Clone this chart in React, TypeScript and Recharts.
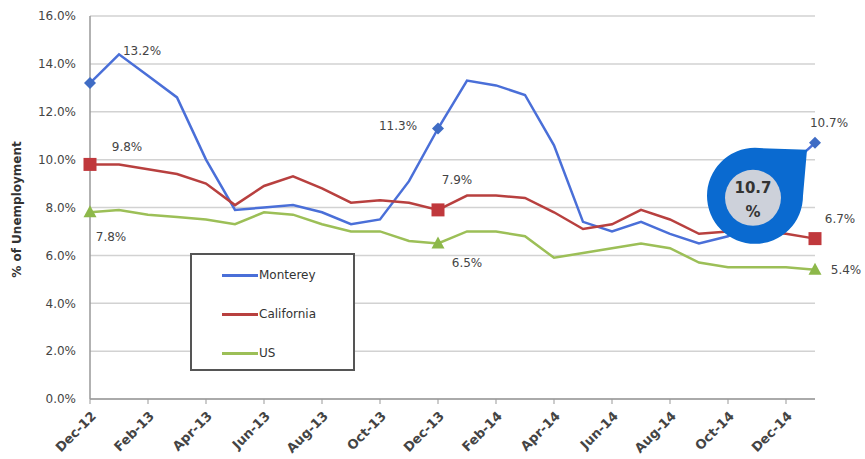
import React from 'react';
import { LineChart, Line, XAxis, YAxis, CartesianGrid, Legend, LabelList } from 'recharts';

const months = [
  'Dec-12', 'Jan-13', 'Feb-13', 'Mar-13', 'Apr-13', 'May-13', 'Jun-13', 'Jul-13', 'Aug-13',
  'Sep-13', 'Oct-13', 'Nov-13', 'Dec-13', 'Jan-14', 'Feb-14', 'Mar-14', 'Apr-14', 'May-14',
  'Jun-14', 'Jul-14', 'Aug-14', 'Sep-14', 'Oct-14', 'Nov-14', 'Dec-14', 'Jan-15',
];
const monterey = [13.2, 14.4, 13.5, 12.6, 10.0, 7.9, 8.0, 8.1, 7.8, 7.3, 7.5, 9.1, 11.3, 13.3, 13.1, 12.7, 10.6, 7.4, 7.0, 7.4, 6.9, 6.5, 6.8, 7.5, 9.6, 10.7];
const california = [9.8, 9.8, 9.6, 9.4, 9.0, 8.1, 8.9, 9.3, 8.8, 8.2, 8.3, 8.2, 7.9, 8.5, 8.5, 8.4, 7.8, 7.1, 7.3, 7.9, 7.5, 6.9, 7.0, 7.0, 6.9, 6.7];
const us = [7.8, 7.9, 7.7, 7.6, 7.5, 7.3, 7.8, 7.7, 7.3, 7.0, 7.0, 6.6, 6.5, 7.0, 7.0, 6.8, 5.9, 6.1, 6.3, 6.5, 6.3, 5.7, 5.5, 5.5, 5.5, 5.4];
const yTicks = [0, 2, 4, 6, 8, 10, 12, 14, 16];
const markerIdx = [0, 12, 25];
const calloutValue = '10.7';

const data = months.map((m, i) => ({ month: m, monterey: monterey[i], california: california[i], us: us[i] }));

const BLUE = '#4a6fd8';
const RED = '#b8403f';
const GREEN = '#9cbf57';
const FONT = 'DejaVu Sans';

// label offsets relative to point, per series index
const labelOffsets: Record<string, Record<number, [number, number]>> = {
  monterey: { 0: [52, -32], 12: [-40, -3], 25: [14, -20] },
  california: { 0: [37, -17], 12: [19, -30], 25: [25, -20] },
  us: { 0: [21, 25], 12: [29, 20], 25: [31, 0] },
};

const makeLabel = (key: string) => (props: any) => {
  const { x, y, index, value } = props;
  const off = labelOffsets[key][index];
  if (!off) return null;
  return (
    <text x={x + off[0]} y={y + off[1]} textAnchor="middle" dominantBaseline="central" fontSize={12} fill="#444" fontFamily={FONT}>
      {`${Number(value).toFixed(1)}%`}
    </text>
  );
};

const diamondDot = (props: any) => {
  const { cx, cy, index } = props;
  if (!markerIdx.includes(index)) return <g key={`d${index}`} />;
  return <path key={`d${index}`} d={`M${cx},${cy - 6}L${cx + 6},${cy}L${cx},${cy + 6}L${cx - 6},${cy}Z`} fill="#3f6cc4" />;
};
const squareDot = (props: any) => {
  const { cx, cy, index } = props;
  if (!markerIdx.includes(index)) return <g key={`s${index}`} />;
  return <rect key={`s${index}`} x={cx - 6.5} y={cy - 6.5} width={13} height={13} fill="#c0383c" />;
};
const triDot = (props: any) => {
  const { cx, cy, index } = props;
  if (!markerIdx.includes(index)) return <g key={`t${index}`} />;
  return <path key={`t${index}`} d={`M${cx},${cy - 7}L${cx + 6.5},${cy + 5}L${cx - 6.5},${cy + 5}Z`} fill="#8db84a" />;
};

const Callout = (props: any) => {
  const { x, y, index } = props;
  if (index !== months.length - 1) return null;
  const cx = x - 60;
  const cy = y + 53;
  const r = 48;
  const tx = cx + 52;
  const ty = cy - 46;
  return (
    <g>
      <path d={`M${cx},${cy - r} L${tx},${ty} L${cx + r},${cy} A${r},${r} 0 1 1 ${cx},${cy - r} Z`} fill="#0a6ad0" />
      <circle cx={cx - 2} cy={cy + 2} r={28} fill="#cdd1da" />
      <text x={cx - 2} y={cy - 8} textAnchor="middle" dominantBaseline="central" fontSize={15} fontWeight="bold" fill="#333" fontFamily={FONT}>{calloutValue}</text>
      <text x={cx - 2} y={cy + 16} textAnchor="middle" dominantBaseline="central" fontSize={15} fontWeight="bold" fill="#333" fontFamily={FONT}>%</text>
    </g>
  );
};

const XTick = (props: any) => {
  const { x, y, payload } = props;
  return (
    <g transform={`translate(${x + 4},${y + 8})`}>
      <text x={0} y={0} dy={4} textAnchor="end" transform="rotate(-45)" fontSize={13} fontWeight="bold" fill="#444" fontFamily={FONT}>
        {payload.value}
      </text>
    </g>
  );
};

const legendItems = [
  { name: 'Monterey', color: BLUE },
  { name: 'California', color: RED },
  { name: 'US', color: GREEN },
];

const LegendBox = () => (
  <div style={{ width: 161, height: 114, border: '2px solid #555', background: '#fff', fontFamily: FONT, fontSize: 12, color: '#333', position: 'relative' }}>
    {legendItems.map((it, i) => (
      <div key={it.name} style={{ position: 'absolute', left: 30, top: 10 + i * 39, display: 'flex', alignItems: 'center', height: 20 }}>
        <div style={{ width: 36, height: 3, background: it.color }} />
        <span style={{ marginLeft: 1 }}>{it.name}</span>
      </div>
    ))}
  </div>
);

const YLabel = (props: any) => {
  const { viewBox } = props;
  const cx = 17;
  const cy = viewBox.y + viewBox.height / 2 + 2;
  return (
    <text x={cx} y={cy} transform={`rotate(-90, ${cx}, ${cy})`} textAnchor="middle" dominantBaseline="central" fontSize={12} fontWeight="bold" fill="#333" fontFamily={FONT}>
      % of Unemployment
    </text>
  );
};

export default function App() {
  return (
    <div style={{ position: 'absolute', left: 0, top: 0, width: 865, height: 459, background: '#fff' }}>
      <LineChart width={865} height={459} data={data} margin={{ top: 16, right: 50, bottom: 0, left: 0 }}>
        <CartesianGrid vertical={false} stroke="#d2d2d2" strokeWidth={1.5} />
        <XAxis
          dataKey="month"
          interval={1}
          height={60}
          tick={<XTick />}
          tickLine={{ stroke: '#999' }}
          tickSize={5}
          axisLine={{ stroke: '#999', strokeWidth: 1.5 }}
        />
        <YAxis
          width={90}
          domain={[0, 16]}
          ticks={yTicks}
          tickFormatter={(v: number) => `${v.toFixed(1)}%`}
          tick={{ fontSize: 12, fill: '#444', fontFamily: FONT }}
          tickLine={false}
          tickMargin={8}
          axisLine={{ stroke: '#999', strokeWidth: 1.5 }}
          label={<YLabel />}
        />
        <Legend
          layout="vertical"
          align="center"
          verticalAlign="middle"
          content={<LegendBox />}
          wrapperStyle={{ position: 'absolute', left: 190, top: 253, width: 165, height: 118 }}
        />
        <Line dataKey="monterey" name="Monterey" stroke={BLUE} strokeWidth={2.5} dot={diamondDot} activeDot={false} isAnimationActive={false}>
          <LabelList dataKey="monterey" content={makeLabel('monterey')} />
        </Line>
        <Line dataKey="california" name="California" stroke={RED} strokeWidth={2.5} dot={squareDot} activeDot={false} isAnimationActive={false}>
          <LabelList dataKey="california" content={makeLabel('california')} />
        </Line>
        <Line dataKey="us" name="US" stroke={GREEN} strokeWidth={2.5} dot={triDot} activeDot={false} isAnimationActive={false}>
          <LabelList dataKey="us" content={makeLabel('us')} />
        </Line>
        <Line dataKey="monterey" name="callout" stroke="none" strokeWidth={0} dot={false} activeDot={false} legendType="none" isAnimationActive={false}>
          <LabelList dataKey="monterey" content={Callout} />
        </Line>
      </LineChart>
    </div>
  );
}
